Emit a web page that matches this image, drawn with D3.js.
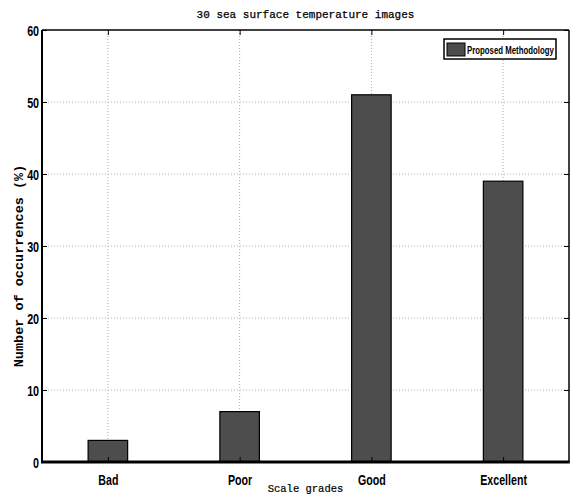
<!DOCTYPE html>
<html lang="en">
<head>
    <meta charset="UTF-8">
    <title>30 sea surface temperature images</title>
    <script src="https://d3js.org/d3.v7.min.js"></script>
    <style>
        body { margin: 0; background: #fff; }
        .tick text { font-family: "Liberation Sans", Arial, sans-serif; font-weight: bold; font-size: 15px; fill: #000; }
    </style>
</head>
<body>
    <div id="chart"></div>

    <script>
        // chart data
        const grades = ["Bad", "Poor", "Good", "Excellent"];
        const occurrences = [3, 7, 51, 39];
        const yTicks = [0, 10, 20, 30, 40, 50, 60];
        const seriesName = "Proposed Methodology";

        const W = 574, H = 495;
        const pLeft = 42, pRight = 569, pTop = 30, pBottom = 462;

        const svg = d3.select("#chart").append("svg")
            .attr("width", W)
            .attr("height", H);

        const x = d3.scaleLinear().domain([0.5, grades.length + 0.5]).range([pLeft, pRight]);
        const y = d3.scaleLinear().domain([0, 60]).range([pBottom, pTop]);
        const barW = (x(1) - x(0)) * 0.3;

        // dotted grid
        svg.append("g").selectAll("line")
            .data(yTicks.slice(1, -1))
            .join("line")
            .attr("x1", pLeft).attr("x2", pRight)
            .attr("y1", d => y(d)).attr("y2", d => y(d))
            .attr("stroke", "#b0b0b0").attr("stroke-width", 1)
            .attr("stroke-dasharray", "1,2");

        svg.append("g").selectAll("line")
            .data(grades)
            .join("line")
            .attr("x1", (d, i) => x(i + 1)).attr("x2", (d, i) => x(i + 1))
            .attr("y1", pTop).attr("y2", pBottom)
            .attr("stroke", "#b0b0b0").attr("stroke-width", 1)
            .attr("stroke-dasharray", "1,2");

        // bars
        svg.append("g").selectAll("rect")
            .data(occurrences)
            .join("rect")
            .attr("x", (d, i) => x(i + 1) - barW / 2)
            .attr("y", d => y(d))
            .attr("width", barW)
            .attr("height", d => pBottom - y(d))
            .attr("fill", "#4d4d4d")
            .attr("stroke", "#000")
            .attr("stroke-width", 1.2);

        // axes, ticks inside like matlab
        const xAxis = svg.append("g")
            .attr("transform", `translate(0,${pBottom})`)
            .call(d3.axisBottom(x).tickValues([1, 2, 3, 4]).tickFormat((d, i) => grades[i]).tickSize(-5).tickPadding(12));
        const yAxis = svg.append("g")
            .attr("transform", `translate(${pLeft},0)`)
            .call(d3.axisLeft(y).tickValues(yTicks).tickSize(-5).tickPadding(4));
        const xTop = svg.append("g")
            .attr("transform", `translate(0,${pTop})`)
            .call(d3.axisTop(x).tickValues([1, 2, 3, 4]).tickFormat("").tickSize(-5));
        const yRight = svg.append("g")
            .attr("transform", `translate(${pRight},0)`)
            .call(d3.axisRight(y).tickValues(yTicks).tickFormat("").tickSize(-5));

        [xAxis, yAxis, xTop, yRight].forEach(g => {
            g.select(".domain").remove();
            g.selectAll(".tick line").attr("stroke", "#000").attr("stroke-width", 1);
        });
        xAxis.selectAll(".tick text").attr("transform", "scale(0.71,1)");
        yAxis.selectAll(".tick text").attr("transform", "scale(0.72,1)").attr("dy", "0.36em");

        // box
        svg.append("line").attr("x1", pLeft).attr("x2", pRight).attr("y1", pTop).attr("y2", pTop)
            .attr("stroke", "#000").attr("stroke-width", 1.5);
        svg.append("line").attr("x1", pRight).attr("x2", pRight).attr("y1", pTop).attr("y2", pBottom)
            .attr("stroke", "#000").attr("stroke-width", 1.5);
        svg.append("line").attr("x1", pLeft).attr("x2", pLeft).attr("y1", pTop).attr("y2", pBottom)
            .attr("stroke", "#000").attr("stroke-width", 2);
        svg.append("line").attr("x1", pLeft - 1).attr("x2", pRight + 0.75).attr("y1", pBottom).attr("y2", pBottom)
            .attr("stroke", "#000").attr("stroke-width", 3);

        // title and labels
        svg.append("text")
            .attr("x", (pLeft + pRight) / 2).attr("y", 18)
            .attr("text-anchor", "middle")
            .attr("font-family", "Liberation Mono, Courier New, monospace")
            .attr("font-size", 11)
            .attr("stroke", "#000").attr("stroke-width", 0.25)
            .text("30 sea surface temperature images");

        svg.append("text")
            .attr("x", (pLeft + pRight) / 2).attr("y", 492)
            .attr("text-anchor", "middle")
            .attr("font-family", "Liberation Mono, Courier New, monospace")
            .attr("font-size", 10.5)
            .attr("stroke", "#000").attr("stroke-width", 0.2)
            .text("Scale grades");

        svg.append("text")
            .attr("transform", `translate(23,${(pTop + pBottom) / 2 + 20}) rotate(-90)`)
            .attr("text-anchor", "middle")
            .attr("font-family", "Liberation Mono, Courier New, monospace")
            .attr("font-weight", "bold")
            .attr("font-size", 13.5)
            .text("Number of occurrences (%)");

        // legend
        const lg = svg.append("g").attr("transform", "translate(444,39)");
        lg.append("rect").attr("width", 112).attr("height", 20)
            .attr("fill", "#fff").attr("stroke", "#000").attr("stroke-width", 1.5);
        lg.append("rect").attr("x", 3).attr("y", 4).attr("width", 18).attr("height", 13)
            .attr("fill", "#4d4d4d").attr("stroke", "#000").attr("stroke-width", 1);
        lg.append("text")
            .attr("transform", "translate(23,14.5) scale(0.68,1)")
            .attr("font-family", "Liberation Sans, Arial, sans-serif")
            .attr("font-weight", "bold").attr("font-size", 11.5)
            .text(seriesName);
    </script>
</body>
</html>
